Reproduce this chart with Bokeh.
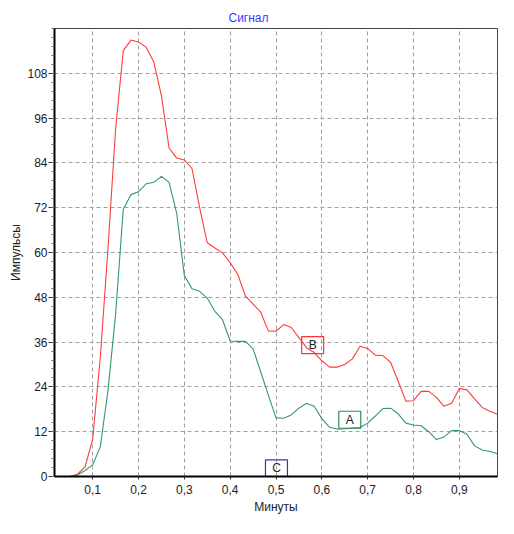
from bokeh.plotting import figure
from bokeh.models import Range1d, FixedTicker, ColumnDataSource
from bokeh.core.properties import value
from bokeh.embed import file_html
from bokeh.resources import INLINE

# ---- data ----
seconds = list(range(3, 60))  # sample times in seconds (x axis in minutes)
series_b = [0, 0.6, 2.6, 10, 32, 61, 93, 114, 116.9, 116.4, 115, 111,
            102, 88, 85.3, 84.8, 82.5, 72, 62.6, 61.2, 59.9, 57.3, 54.1, 48.3,
            46.2, 44, 39, 38.9, 40.7, 39.9, 37.2, 34.5, 33.2, 31, 29.3, 29.3,
            30, 31.5, 34.9, 34.3, 32.5, 32.4, 30.6, 25.5, 20.2, 20.3, 22.8, 22.8,
            21.2, 18.8, 19.6, 23.6, 23.2, 20.8, 18.5, 17.5, 16.7]
series_a = [0, 0.4, 1.6, 3.1, 8, 23, 43.5, 71.5, 75.5, 76.3, 78.4, 78.8,
            80.4, 78.8, 70.5, 53.8, 50.3, 49.6, 47.8, 44.2, 42, 36.3, 36.2, 36.2,
            34.2, 28, 21.8, 15.7, 15.6, 16.5, 18.3, 19.6, 18.8, 15.5, 13.2, 12.7,
            12.8, 13, 13.1, 14.3, 16.2, 18.2, 18.3, 16.8, 14.3, 13.8, 13.6, 12,
            9.9, 10.6, 12.3, 12.3, 11.3, 8.2, 7.1, 6.7, 6.1]
x_ticks = [0.1, 0.2, 0.3, 0.4, 0.5, 0.6, 0.7, 0.8, 0.9]
x_tick_labels = ["0,1", "0,2", "0,3", "0,4", "0,5", "0,6", "0,7", "0,8", "0,9"]
y_ticks = [0, 12, 24, 36, 48, 60, 72, 84, 96, 108]
marker_names = ["B", "A", "C"]
marker_x = [0.580, 0.661, 0.501]
marker_y = [35.2, 15.2, 2.15]
marker_colors = ["#ff3333", "#2e8b57", "#3333bb"]

minutes = [s / 60 for s in seconds]

FONT = "Liberation Sans"

p = figure(width=505, height=525, output_backend="svg", toolbar_location=None,
           x_range=Range1d(1 / 60, 59 / 60), y_range=Range1d(0, 120),
           min_border_left=54, min_border_right=8, min_border_top=28,
           min_border_bottom=49)

p.title.text = "Сигнал"
p.title.text_color = "#3838ff"
p.title.text_font = FONT
p.title.text_font_size = "12px"
p.title.text_font_style = "normal"
p.title.align = "left"
p.title.offset = 174
p.title.standoff = 7

p.outline_line_color = "#444444"
p.outline_line_width = 1
p.background_fill_color = "white"
p.border_fill_color = "white"

# grid
for g in (p.xgrid, p.ygrid):
    g.grid_line_color = "#a0a0a0"
    g.grid_line_dash = "4 3"
    g.grid_line_width = 1
p.xgrid.ticker = FixedTicker(ticks=x_ticks)
p.ygrid.ticker = FixedTicker(ticks=y_ticks)

# axes
xa = p.xaxis[0]
xa.ticker = FixedTicker(ticks=x_ticks)
xa.major_label_overrides = {t: l for t, l in zip(x_ticks, x_tick_labels)}
xa.axis_label = "Минуты"
ya = p.yaxis[0]
ya.ticker = FixedTicker(ticks=y_ticks, minor_ticks=[i * 2.4 for i in range(0, 51)])
ya.axis_label = "Импульсы"
for ax in (xa, ya):
    ax.axis_line_color = "black"
    ax.axis_line_width = 2
    ax.major_tick_line_color = "#333333"
    ax.minor_tick_line_color = "#666666"
    ax.major_tick_in = 0
    ax.minor_tick_in = 0
    ax.major_label_text_font = FONT
    ax.major_label_text_font_size = "12px"
    ax.major_label_text_color = "#222222"
    ax.axis_label_text_font = FONT
    ax.axis_label_text_font_size = "12px"
    ax.axis_label_text_font_style = "normal"
    ax.axis_label_text_color = "#222222"
xa.major_tick_out = 3
xa.minor_tick_out = 0
xa.major_label_standoff = 5
xa.axis_label_standoff = 3
ya.major_tick_out = 6
ya.minor_tick_out = 3
ya.major_label_standoff = 1
ya.axis_label_standoff = 1

src = ColumnDataSource(dict(x=minutes, b=series_b, a=series_a))
p.line("x", "b", source=src, line_color="#ff3b3b", line_width=1.1)
p.line("x", "a", source=src, line_color="#339966", line_width=1.1)

msrc = ColumnDataSource(dict(x=marker_x, y=marker_y, t=marker_names, c=marker_colors))
p.rect("x", "y", width=22, height=17, width_units="screen", height_units="screen",
       source=msrc, fill_alpha=0, line_color="c", line_width=1.2)
p.text("x", "y", text="t", source=msrc, text_align="center", text_baseline="middle",
       text_font=value(FONT), text_font_size="12px", text_color="#222222")

open("out.html", "w").write(file_html(p, INLINE))
